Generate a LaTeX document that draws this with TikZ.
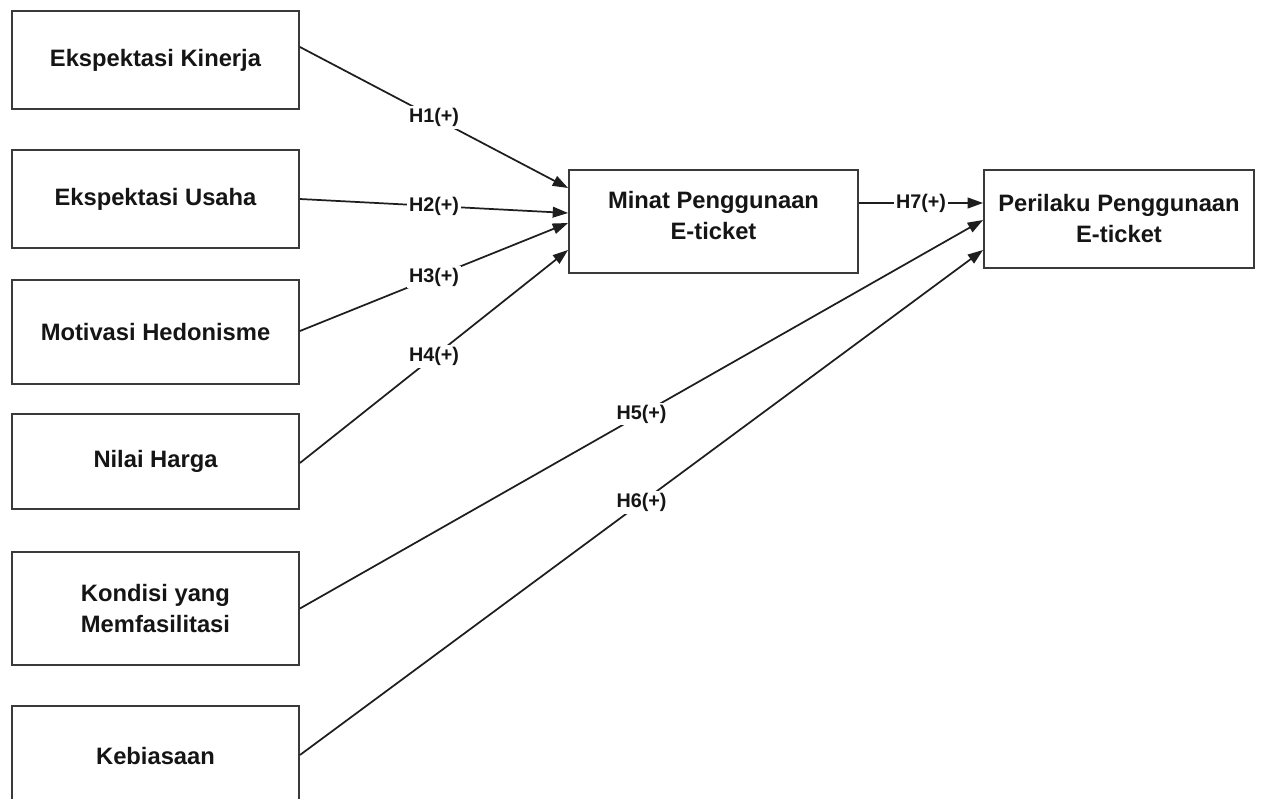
\documentclass[tikz,border=0pt]{standalone}
\usepackage{fontspec}
\setmainfont{Liberation Sans}
\usetikzlibrary{arrows.meta,calc}
\definecolor{txt}{HTML}{151515}
\definecolor{edge}{HTML}{3A3A3A}
\definecolor{ln}{HTML}{1E1E1E}
\tikzset{
  box/.style={draw=edge, line width=1.4pt, fill=white, inner sep=0pt, align=center,
    text=txt, font=\bfseries\fontsize{17.8}{23.25}\selectfont, minimum width=215.25pt},
  arr/.style={draw=ln, line width=1.3pt, -{Triangle[length=11.5pt,width=8pt]}},
  lbl/.style={fill=white, inner sep=1.5pt, text=txt, font=\bfseries\fontsize{14.8}{17}\selectfont, pos=0.5}
}
\begin{document}
\begin{tikzpicture}[x=0.75pt,y=-0.75pt]
\useasboundingbox (0,0) rectangle (1261,799);
\fill[white] (0,0) rectangle (1261,799);
\node[box, minimum height=73.5pt] (b1) at (155.5,60) {Ekspektasi Kinerja};
\node[box, minimum height=73.5pt] (b2) at (155.5,199) {Ekspektasi Usaha};
\node[box, minimum height=78pt] (b3) at (155.5,332) {Motivasi Hedonisme};
\node[box, minimum height=71.25pt] (b4) at (155.5,461.5) {Nilai Harga};
\node[box, minimum height=84.75pt] (b5) at (155.5,608.5) {Kondisi yang\\Memfasilitasi};
\node[box, minimum height=75pt] (b6) at (155.5,756) {Kebiasaan};
\node[box, minimum width=216.75pt, minimum height=77.25pt] (minat) at (713.5,221.5) {Minat Penggunaan\\E-ticket\rule[-9pt]{0pt}{0pt}};
\node[box, minimum width=202.5pt, minimum height=73.5pt] (perilaku) at (1119,219) {Perilaku Penggunaan\\E-ticket};

\draw[arr] ($(b1.east)+(0,-13)$) -- node[lbl]{H1(+)} ($(minat.west)+(0,-33.5)$);
\draw[arr] ($(b2.east)+(0,0)$) -- node[lbl]{H2(+)} ($(minat.west)+(0,-8.5)$);
\draw[arr] ($(b3.east)+(0,-1)$) -- node[lbl]{H3(+)} ($(minat.west)+(0,1.5)$);
\draw[arr] ($(b4.east)+(0,1.5)$) -- node[lbl]{H4(+)} ($(minat.west)+(0,28.5)$);
\draw[arr] ($(minat.east)+(0,-18.5)$) -- node[lbl]{H7(+)} ($(perilaku.west)+(0,-16)$);
\draw[arr] ($(b5.east)+(0,0)$) -- node[lbl]{H5(+)} ($(perilaku.west)+(0,1)$);
\draw[arr] ($(b6.east)+(0,-1)$) -- node[lbl]{H6(+)} ($(perilaku.west)+(0,31)$);
\end{tikzpicture}
\end{document}
